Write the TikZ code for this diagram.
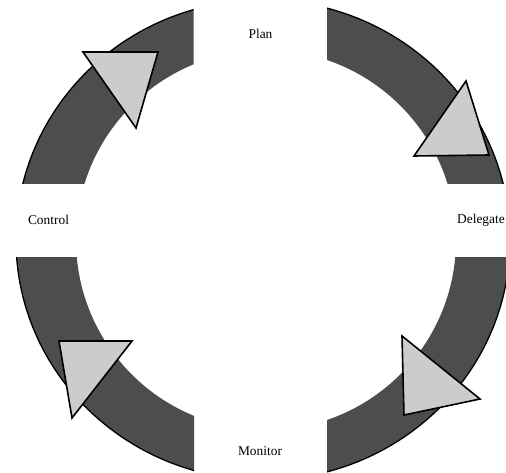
\documentclass[tikz,border=0pt]{standalone}
\usepackage{fontspec}
\setmainfont{Liberation Serif}
\definecolor{ringgray}{RGB}{77,77,77}
\definecolor{trigray}{RGB}{204,204,204}
\tikzset{
  ringfill/.style={fill=ringgray, even odd rule},
  ringedge/.style={draw=black, line width=1.3pt},
  arrowtri/.style={fill=trigray, draw=black, line width=1.6pt, line join=miter},
  lbl/.style={anchor=base, inner sep=0pt, font=\fontsize{13.4}{16}\selectfont}
}
\begin{document}
\begin{tikzpicture}[x=1pt,y=-1pt]
\useasboundingbox (0,0) rectangle (506,473);
\fill[white] (0,0) rectangle (506,473);
% four ring segments
\foreach \cx/\cy/\dx/\dy in {0/0/193.5/184, 327/0/506/184, 0/257/194/473, 327/257/506/473}{
  \begin{scope}
    \clip (\cx,\cy) rectangle (\dx,\dy);
    \fill[ringfill] (263,240) ellipse [x radius=247pt, y radius=240pt]
                    (266,240) circle [radius=190pt];
    \draw[ringedge] (263,240) ellipse [x radius=247pt, y radius=240pt];
  \end{scope}
}
% triangles
\draw[arrowtri] (83,52) -- (158,52) -- (136,128) -- cycle;
\draw[arrowtri] (466,81) -- (489,155) -- (414,156) -- cycle;
\draw[arrowtri] (59,341) -- (132,341) -- (72,418) -- cycle;
\draw[arrowtri] (402,336) -- (480,399) -- (404,415) -- cycle;
% labels
\node[lbl] (plan) at (260.5,39) {Plan};
\node[lbl] (control) at (48.5,225) {Control};
\node[lbl] (delegate) at (481,224) {Delegate};
\node[lbl] (monitor) at (260,455.5) {Monitor};
\end{tikzpicture}
\end{document}
